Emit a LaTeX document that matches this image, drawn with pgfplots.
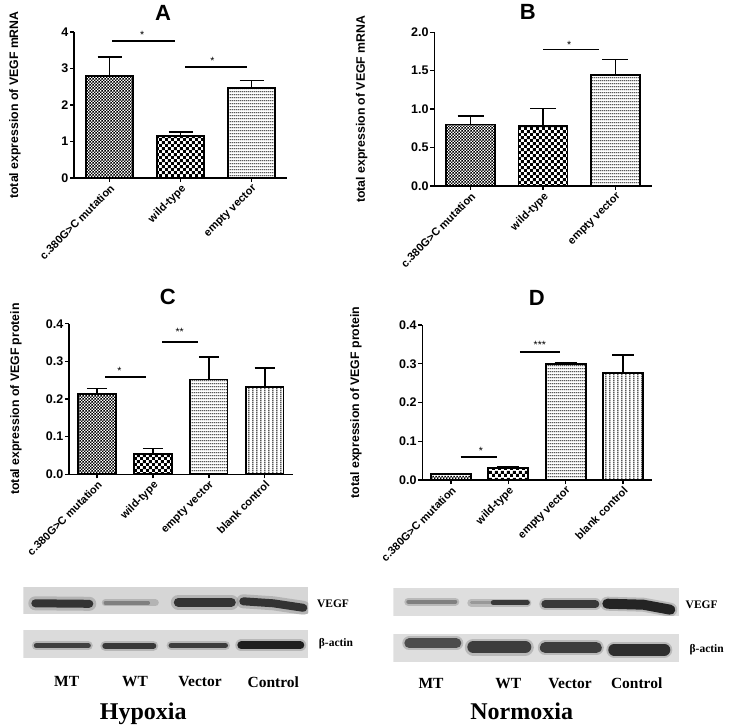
\documentclass[border=0pt]{standalone}
\usepackage{fontspec}
\setmainfont{Liberation Sans}
\newfontfamily\seriffont{Liberation Serif}
\usepackage{pgfplots}
\pgfplotsset{compat=1.18}
\usetikzlibrary{patterns,patterns.meta}

\pgfdeclarepattern{
  name=finecheck, type=uncolored,
  bottom left={\pgfpoint{0pt}{0pt}}, top right={\pgfpoint{3.4pt}{3.4pt}},
  tile size={\pgfpoint{3.4pt}{3.4pt}},
  code={\pgfpathrectangle{\pgfpoint{0pt}{0pt}}{\pgfpoint{1.7pt}{1.7pt}}
        \pgfpathrectangle{\pgfpoint{1.7pt}{1.7pt}}{\pgfpoint{1.7pt}{1.7pt}}
        \pgfusepath{fill}}}
\pgfdeclarepattern{
  name=bigcheck, type=uncolored,
  bottom left={\pgfpoint{0pt}{0pt}}, top right={\pgfpoint{6.4pt}{6.4pt}},
  tile size={\pgfpoint{6.4pt}{6.4pt}},
  code={\pgfpathrectangle{\pgfpoint{0pt}{0pt}}{\pgfpoint{3.2pt}{3.2pt}}
        \pgfpathrectangle{\pgfpoint{3.2pt}{3.2pt}}{\pgfpoint{3.2pt}{3.2pt}}
        \pgfusepath{fill}}}
\pgfdeclarepattern{
  name=hlines, type=uncolored,
  bottom left={\pgfpoint{0pt}{0pt}}, top right={\pgfpoint{2pt}{3.2pt}},
  tile size={\pgfpoint{2pt}{3.2pt}},
  code={\pgfpathrectangle{\pgfpoint{-0.1pt}{1.2pt}}{\pgfpoint{2.2pt}{0.9pt}}
        \pgfusepath{fill}}}
\pgfdeclarepattern{
  name=vlines, type=uncolored,
  bottom left={\pgfpoint{0pt}{0pt}}, top right={\pgfpoint{3.8pt}{2pt}},
  tile size={\pgfpoint{3.8pt}{2pt}},
  code={\pgfpathrectangle{\pgfpoint{1.5pt}{-0.1pt}}{\pgfpoint{0.9pt}{2.2pt}}
        \pgfusepath{fill}}}

\pgfplotsset{
  gp/.style={
    scale only axis, ymin=0, clip=false,
    axis x line*=bottom, axis y line*=left,
    axis line style={line width=1.5pt, -},
    every tick/.style={black, line width=1.4pt},
    major tick length=4pt, tick align=outside,
    xticklabel style={rotate=45, anchor=north east, inner sep=1pt,
      font=\fontsize{11}{12}\selectfont\bfseries},
    yticklabel style={font=\fontsize{12.5}{13}\selectfont\bfseries, inner sep=1.5pt},
    /pgf/number format/assume math mode=true,
    ylabel style={font=\fontsize{12.3}{14}\selectfont\bfseries, anchor=center},
  },
  gpbar/.style={
    ybar, bar shift=0pt, draw=black, line width=1.8pt, pattern color=black,
    error bars/y dir=plus, error bars/y explicit,
    error bars/error bar style={line width=1.6pt, solid, black},
    error bars/error mark options={rotate=90, line width=1.6pt, black, mark size=#1},
  },
  sig/.style={black, line width=1.8pt, no marks},
  blot/.style={scale only axis, hide axis, width=285pt, xmin=0, xmax=285, ymin=0},
  halo/.style={no marks, line cap=round, black!45, opacity=0.45},
  band/.style={no marks, line cap=round},
}
\tikzset{star/.style={font=\fontsize{10.5}{11}\selectfont}}

\begin{document}
\begin{tikzpicture}
\useasboundingbox (0pt,0pt) rectangle (731pt,-727pt);

% ---------------- A ----------------
\node[font=\fontsize{22}{24}\selectfont\bfseries] at (163pt,-13pt) {A};
\begin{axis}[gp, at={(74pt,-178pt)}, anchor=south west, width=213pt, height=146pt,
  xmin=-0.5, xmax=2.5, ymax=4, ytick={0,1,2,3,4}, xtick={0,1,2},
  xticklabels={c.380G>C mutation, wild-type, empty vector},
  ylabel={total expression of VEGF mRNA},
  ylabel style={at={(axis description cs:-0.277,0.5)}}]
\addplot[gpbar=12pt, bar width=0.66, pattern=finecheck] coordinates {(0,2.79) +- (0,0.52)};
\addplot[gpbar=12pt, bar width=0.66, pattern=bigcheck] coordinates {(1,1.16) +- (0,0.10)};
\addplot[gpbar=12pt, bar width=0.66, pattern=hlines] coordinates {(2,2.47) +- (0,0.20)};
\addplot[sig] coordinates {(0.04,3.75) (0.92,3.75)};
\addplot[sig] coordinates {(1.07,3.04) (1.93,3.04)};
\node[star] at (axis cs:0.46,3.93) {*};
\node[star] at (axis cs:1.45,3.22) {*};
\end{axis}

% ---------------- B ----------------
\node[font=\fontsize{22}{24}\selectfont\bfseries] at (527.7pt,-12pt) {B};
\begin{axis}[gp, at={(434.3pt,-186pt)}, anchor=south west, width=217.4pt, height=153.7pt,
  xmin=-0.5, xmax=2.5, ymax=2, ytick={0,0.5,1,1.5,2}, xtick={0,1,2},
  yticklabel style={/pgf/number format/.cd, fixed, fixed zerofill, precision=1},
  xticklabels={c.380G>C mutation, wild-type, empty vector},
  ylabel={total expression of VEGF mRNA},
  ylabel style={at={(axis description cs:-0.334,0.5)}}]
\addplot[gpbar=13pt, bar width=0.675, pattern=finecheck] coordinates {(0,0.80) +- (0,0.11)};
\addplot[gpbar=13pt, bar width=0.675, pattern=bigcheck] coordinates {(1,0.78) +- (0,0.23)};
\addplot[gpbar=13pt, bar width=0.675, pattern=hlines] coordinates {(2,1.445) +- (0,0.20)};
\addplot[sig] coordinates {(1.0,1.775) (1.77,1.775)};
\node[star] at (axis cs:1.36,1.84) {*};
\end{axis}

% ---------------- C ----------------
\node[font=\fontsize{22}{24}\selectfont\bfseries] at (167.7pt,-296.7pt) {C};
\begin{axis}[gp, at={(69pt,-474.3pt)}, anchor=south west, width=223.7pt, height=150.6pt,
  xmin=-0.5, xmax=3.5, ymax=0.4, ytick={0,0.1,0.2,0.3,0.4}, xtick={0,1,2,3},
  yticklabel style={/pgf/number format/.cd, fixed, fixed zerofill, precision=1},
  xticklabels={c.380G>C mutation, wild-type, empty vector, blank control},
  ylabel={total expression of VEGF protein},
  ylabel style={at={(axis description cs:-0.237,0.5)}}]
\addplot[gpbar=10pt, bar width=0.67, pattern=finecheck] coordinates {(0,0.2125) +- (0,0.0155)};
\addplot[gpbar=10pt, bar width=0.67, pattern=bigcheck] coordinates {(1,0.053) +- (0,0.016)};
\addplot[gpbar=10pt, bar width=0.67, pattern=hlines] coordinates {(2,0.252) +- (0,0.0595)};
\addplot[gpbar=10pt, bar width=0.67, pattern=vlines] coordinates {(3,0.231) +- (0,0.051)};
\addplot[sig] coordinates {(0.145,0.2575) (0.87,0.2575)};
\addplot[sig] coordinates {(1.17,0.351) (1.8,0.351)};
\node[star] at (axis cs:0.40,0.276) {*};
\node[star] at (axis cs:1.48,0.379) {**};
\end{axis}

% ---------------- D ----------------
\node[font=\fontsize{22}{24}\selectfont\bfseries] at (536.7pt,-298pt) {D};
\begin{axis}[gp, at={(422.3pt,-480pt)}, anchor=south west, width=229.4pt, height=155pt,
  xmin=-0.5, xmax=3.5, ymax=0.4, ytick={0,0.1,0.2,0.3,0.4}, xtick={0,1,2,3},
  yticklabel style={/pgf/number format/.cd, fixed, fixed zerofill, precision=1},
  xticklabels={c.380G>C mutation, wild-type, empty vector, blank control},
  ylabel={total expression of VEGF protein},
  ylabel style={at={(axis description cs:-0.289,0.5)}}]
\addplot[ybar, bar shift=0pt, bar width=0.70, draw=black, line width=1.8pt, pattern color=black, pattern=finecheck] coordinates {(0,0.0155)};
\addplot[gpbar=11pt, bar width=0.70, pattern=bigcheck] coordinates {(1,0.031) +- (0,0.002)};
\addplot[gpbar=11pt, bar width=0.70, pattern=hlines] coordinates {(2,0.300) +- (0,0.002)};
\addplot[gpbar=11pt, bar width=0.70, pattern=vlines] coordinates {(3,0.277) +- (0,0.046)};
\addplot[sig] coordinates {(0.17,0.060) (0.81,0.060)};
\addplot[sig] coordinates {(1.2,0.330) (1.9,0.330)};
\node[star] at (axis cs:0.52,0.074) {*};
\node[star] at (axis cs:1.55,0.349) {***};
\end{axis}

% ---------------- Blots: Hypoxia ----------------
\begin{axis}[blot, at={(23.3pt,-614.3pt)}, anchor=south west, height=27.6pt, ymax=27.6]
\addplot[fill=black!16, draw=none] coordinates {(0,0)(285,0)(285,27.6)(0,27.6)} -- cycle;
\addplot[halo, line width=14pt] coordinates {(12,11)(66,10.5)};
\addplot[band, line width=8pt, black!80] coordinates {(12,11)(66,10.5)};
\addplot[halo, line width=7pt] coordinates {(82,11.5)(132,11.5)};
\addplot[band, line width=3.5pt, black!50] coordinates {(82,11.5)(125,11.5)};
\addplot[halo, line width=15pt] coordinates {(155,12)(208,12)};
\addplot[band, line width=9pt, black!80] coordinates {(155,12)(208,12)};
\addplot[halo, line width=14pt] coordinates {(220,13)(250,11)(280,6.5)};
\addplot[band, line width=8pt, black!80] coordinates {(220,13)(250,11)(280,6.5)};
\end{axis}
\begin{axis}[blot, at={(23.3pt,-658.3pt)}, anchor=south west, height=28.3pt, ymax=28.3]
\addplot[fill=black!14, draw=none] coordinates {(0,0)(285,0)(285,28.3)(0,28.3)} -- cycle;
\addplot[halo, line width=9pt] coordinates {(13,12.6)(65,12.6)};
\addplot[band, line width=5pt, black!75] coordinates {(13,12.6)(65,12.6)};
\addplot[halo, line width=10pt] coordinates {(82,12.6)(130,12.6)};
\addplot[band, line width=6pt, black!78] coordinates {(82,12.6)(130,12.6)};
\addplot[halo, line width=9.5pt] coordinates {(148,12.8)(202,12.8)};
\addplot[band, line width=5.5pt, black!76] coordinates {(148,12.8)(202,12.8)};
\addplot[halo, line width=12pt] coordinates {(218,13)(277,13)};
\addplot[band, line width=8pt, black!88] coordinates {(218,13)(277,13)};
\end{axis}

% ---------------- Blots: Normoxia ----------------
\begin{axis}[blot, width=286pt, xmax=286, at={(393.3pt,-615.7pt)}, anchor=south west, height=27.4pt, ymax=27.4]
\addplot[fill=black!13, draw=none] coordinates {(0,0)(286,0)(286,27.4)(0,27.4)} -- cycle;
\addplot[halo, line width=8pt] coordinates {(15,14)(62,14)};
\addplot[band, line width=4pt, black!50] coordinates {(15,14)(62,14)};
\addplot[halo, line width=8pt] coordinates {(78,13)(134,13)};
\addplot[band, line width=3pt, black!40] coordinates {(78,13)(100,13)};
\addplot[band, line width=5pt, black!78] coordinates {(100,13)(134,13)};
\addplot[halo, line width=12pt] coordinates {(152,11.5)(202,11.5)};
\addplot[band, line width=8pt, black!78] coordinates {(152,11.5)(202,11.5)};
\addplot[halo, line width=14pt] coordinates {(214,12)(250,11)(277,6)};
\addplot[band, line width=10pt, black!86] coordinates {(214,12)(250,11)(277,6)};
\end{axis}
\begin{axis}[blot, width=286pt, xmax=286, at={(393.3pt,-661.7pt)}, anchor=south west, height=27.7pt, ymax=27.7]
\addplot[fill=black!13, draw=none] coordinates {(0,0)(286,0)(286,27.7)(0,27.7)} -- cycle;
\addplot[halo, line width=14pt] coordinates {(16,18.4)(63,18.4)};
\addplot[band, line width=10pt, black!70] coordinates {(16,18.4)(63,18.4)};
\addplot[halo, line width=17pt] coordinates {(80,14.7)(132,14.7)};
\addplot[band, line width=12pt, black!76] coordinates {(80,14.7)(132,14.7)};
\addplot[halo, line width=15pt] coordinates {(152,14)(203,14)};
\addplot[band, line width=11pt, black!76] coordinates {(152,14)(203,14)};
\addplot[halo, line width=16pt] coordinates {(221,12)(271,12)};
\addplot[band, line width=12pt, black!82] coordinates {(221,12)(271,12)};
\end{axis}

% ---------------- Blot labels ----------------
\begin{scope}[every node/.style={font=\seriffont\bfseries\fontsize{11.5}{13}\selectfont}]
\node at (333pt,-604pt) {VEGF};
\node at (336pt,-644pt) {β-actin};
\node at (701.7pt,-605pt) {VEGF};
\node at (706.7pt,-650pt) {β-actin};
\end{scope}
\begin{scope}[every node/.style={font=\seriffont\bfseries\fontsize{15.5}{17}\selectfont}]
\node at (66.7pt,-681.7pt) {MT};
\node at (135pt,-681.7pt) {WT};
\node at (200pt,-681.7pt) {Vector};
\node at (273.3pt,-681.7pt) {Control};
\node at (431pt,-683.3pt) {MT};
\node at (508.3pt,-683.3pt) {WT};
\node at (570pt,-683.3pt) {Vector};
\node at (636.7pt,-683.3pt) {Control};
\end{scope}
\node[font=\seriffont\bfseries\fontsize{24}{26}\selectfont] at (143.3pt,-713.3pt) {Hypoxia};
\node[font=\seriffont\bfseries\fontsize{24}{26}\selectfont] at (521.7pt,-711.7pt) {Normoxia};
\end{tikzpicture}
\end{document}
